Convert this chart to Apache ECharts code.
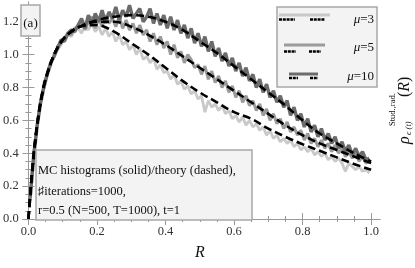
<!DOCTYPE html>
<html><head><meta charset="utf-8">
<script src="https://cdn.jsdelivr.net/npm/echarts@6/dist/echarts.min.js"></script>
<style>html,body{margin:0;padding:0;background:#fff}#c{width:415px;height:268px}</style>
</head><body><div id="c"></div>
<script>
// ---- data ----
const binWidth = 0.01;
const mcMu3 = [0.10,0.36,0.59,0.70,0.83,0.88,0.93,1.01,1.03,1.06,1.10,1.12,1.11,1.15,1.16,
  1.13,1.18,1.15,1.19,1.14,1.17,1.12,1.16,1.11,1.14,
  1.08,1.12,1.06,1.08,1.03,1.06,1.00,1.04,0.97,0.99,
  0.95,0.98,0.91,0.94,0.89,0.90,0.85,0.88,0.82,0.84,
  0.79,0.81,0.76,0.78,0.73,0.75,0.65,0.72,0.68,0.70,
  0.66,0.69,0.64,0.66,0.61,0.63,0.59,0.62,0.57,0.60,
  0.56,0.58,0.54,0.56,0.51,0.54,0.49,0.51,0.47,0.49,
  0.46,0.48,0.44,0.46,0.42,0.44,0.41,0.43,0.39,0.41,
  0.38,0.40,0.36,0.38,0.35,0.37,0.34,0.29,0.34,0.32,
  0.30,0.32,0.29,0.30,0.28];
const mcMu5 = [0.12,0.40,0.56,0.72,0.80,0.89,0.95,0.99,1.05,1.07,1.10,1.13,1.12,1.16,1.17,
  1.21,1.15,1.20,1.23,1.16,1.22,1.17,1.24,1.19,1.22,
  1.17,1.23,1.16,1.21,1.15,1.19,1.13,1.18,1.12,1.15,
  1.08,1.13,1.06,1.11,1.04,1.08,1.00,1.06,0.98,1.02,
  0.95,1.00,0.97,0.92,0.94,0.88,0.93,0.85,0.90,0.83,
  0.87,0.80,0.84,0.77,0.81,0.74,0.78,0.71,0.75,0.69,
  0.72,0.66,0.70,0.63,0.67,0.60,0.64,0.58,0.61,0.55,
  0.59,0.53,0.56,0.51,0.54,0.48,0.52,0.46,0.49,0.44,
  0.48,0.43,0.46,0.41,0.45,0.40,0.43,0.38,0.41,0.37,
  0.40,0.35,0.38,0.34,0.35];
const mcMu10 = [0.13,0.37,0.56,0.70,0.80,0.88,0.95,0.99,1.04,1.09,1.08,1.13,1.15,1.14,1.18,
  1.22,1.16,1.24,1.18,1.25,1.20,1.27,1.19,1.26,1.22,
  1.29,1.21,1.27,1.23,1.30,1.22,1.25,1.28,1.20,1.23,
  1.28,1.19,1.25,1.18,1.24,1.16,1.23,1.15,1.21,1.13,
  1.18,1.10,1.16,1.07,1.13,1.05,1.11,1.02,1.08,0.99,
  1.04,0.96,1.01,0.93,0.98,0.90,0.95,0.87,0.92,0.84,
  0.88,0.80,0.85,0.77,0.82,0.74,0.78,0.71,0.75,0.68,
  0.72,0.63,0.68,0.60,0.64,0.56,0.61,0.53,0.57,0.50,
  0.55,0.48,0.52,0.46,0.50,0.43,0.47,0.41,0.45,0.39,
  0.43,0.38,0.41,0.36,0.37];

const thR    = [0,0.005,0.01,0.02,0.03,0.04,0.05,0.075,0.1,0.125,0.15,0.2,0.25,0.3,0.35,0.4,0.45,0.5,0.55,0.6,0.65,0.7,0.75,0.8,0.85,0.9,0.95,1.0];
const thMu3  = [0,0.14,0.27,0.48,0.64,0.76,0.85,1.00,1.09,1.14,1.17,1.18,1.14,1.07,1.00,0.92,0.84,0.77,0.71,0.65,0.61,0.55,0.50,0.455,0.415,0.375,0.335,0.30];
const thMu5  = [0,0.14,0.27,0.48,0.64,0.76,0.85,1.00,1.09,1.14,1.17,1.20,1.20,1.17,1.12,1.06,0.99,0.92,0.85,0.78,0.71,0.64,0.57,0.51,0.46,0.42,0.38,0.34];
const thMu10 = [0,0.14,0.27,0.48,0.64,0.76,0.85,1.00,1.09,1.14,1.17,1.21,1.23,1.24,1.23,1.20,1.15,1.08,1.01,0.93,0.85,0.77,0.69,0.60,0.52,0.46,0.40,0.35];

const xTicks = [0,0.2,0.4,0.6,0.8,1.0];
const yTicks = [0,0.2,0.4,0.6,0.8,1.0,1.2];
const xMinor = [0,0.05,0.1,0.15,0.2,0.25,0.3,0.35,0.4,0.45,0.5,0.55,0.6,0.65,0.7,0.75,0.8,0.85,0.9,0.95,1.0];
const yMinor = [0,0.05,0.1,0.15,0.2,0.25,0.3,0.35,0.4,0.45,0.5,0.55,0.6,0.65,0.7,0.75,0.8,0.85,0.9,0.95,1.0,1.05,1.1,1.15,1.2,1.25,1.3];

const legendLabels = ['3','5','10'];
const colors = ['#c9c9c9','#9b9b9b','#6b6b6b'];

// ---- build ----
function mcPairs(vals){ return vals.map((v,i)=>[binWidth*(i+0.5), v]); }
function thPairs(vals){ return vals.map((v,i)=>[thR[i], v]); }

const SERIF = 'Liberation Serif';
const XMIN=-0.017, XMAX=1.026, YMIN=-0.012, YMAX=1.32;
const axCol = '#999';

function xAx(pos, custom, len, labels){
  return {type:'value', min:XMIN, max:XMAX, position:pos, splitLine:{show:false},
    axisLine:{show:labels!==null, lineStyle:{color:axCol,width:1}},
    axisTick:{show:true, inside:true, length:len, customValues:custom, lineStyle:{color:axCol}},
    axisLabel:{show:!!labels, customValues:custom, margin:4, color:'#333', fontFamily:SERIF, fontSize:12.5,
      formatter:v=>v.toFixed(1)}};
}
function yAx(pos, custom, len, labels){
  return {type:'value', min:YMIN, max:YMAX, position:pos, splitLine:{show:false},
    axisLine:{show:labels!==null, lineStyle:{color:axCol,width:1}},
    axisTick:{show:true, inside:true, length:len, customValues:custom, lineStyle:{color:axCol}},
    axisLabel:{show:!!labels, customValues:custom, margin:4, color:'#333', fontFamily:SERIF, fontSize:12.5,
      formatter:v=>v.toFixed(1)}};
}

const dash = [8,4];
const widths = [2.8,3,3.4];
const series = [];
[mcMu3,mcMu5,mcMu10].forEach((d,k)=>{
  series.push({type:'line', data:mcPairs(d), showSymbol:false, symbol:'none', silent:true,
    lineStyle:{color:colors[k], width:widths[k]}, z:2});
});
[thMu3,thMu5,thMu10].forEach((d,k)=>{
  series.push({type:'line', data:thPairs(d), showSymbol:false, symbol:'none', smooth:0.35, silent:true,
    lineStyle:{color:'#000', width:2.6, type:dash, cap:'butt'}, z:3});
});

// legend graphics
const lg = [];
lg.push({type:'rect', shape:{x:277,y:7,width:100,height:80}, style:{fill:'#f3f3f3', stroke:'#a8a8a8', lineWidth:1.5}, z:10});
const legRows = [
  {y:15, dy:19.5, x0:279, x1:330, g:[[279,295],[310,325]], ty:20},
  {y:45, dy:51.5, x0:284, x1:325, g:[[284,296],[309,321]], ty:48},
  {y:74, dy:78, x0:289, x1:318, g:[[289,298],[310,318]], ty:77}
];
legRows.forEach((r,k)=>{
  lg.push({type:'line', shape:{x1:r.x0,y1:r.y,x2:r.x1,y2:r.y}, style:{stroke:colors[k], lineWidth:3}, z:11});
  r.g.forEach(s=>lg.push({type:'line', shape:{x1:s[0],y1:r.dy,x2:s[1],y2:r.dy}, style:{stroke:'#000', lineWidth:2.5, lineDash:[3,0.8]}, z:11}));
  lg.push({type:'text', x:374, y:r.ty, z:11, style:{text:'{i|μ}='+legendLabels[k], align:'right', verticalAlign:'middle',
    fontFamily:SERIF, fontSize:13, fill:'#111', rich:{i:{fontStyle:'italic', fontFamily:SERIF, fontSize:13, fill:'#111'}}}});
});
// (a) box
lg.push({type:'rect', shape:{x:21,y:5,width:19,height:31}, style:{fill:'#f3f3f3', stroke:'#a8a8a8', lineWidth:1.5}, z:10});
lg.push({type:'text', x:30.5, y:24, z:11, style:{text:'(a)', align:'center', verticalAlign:'middle', fontFamily:SERIF, fontSize:13, fill:'#111'}});
// info box
lg.push({type:'rect', shape:{x:36,y:150,width:216,height:70}, style:{fill:'#f3f3f3', stroke:'#a8a8a8', lineWidth:1.5}, z:10});
['MC histograms (solid)/theory (dashed),','♯iterations=1000,','r=0.5 (N=500, T=1000), t=1'].forEach((t,i)=>{
  lg.push({type:'text', x:38, y:[171,192,211][i], z:11, style:{text:t, align:'left', verticalAlign:'middle', fontFamily:SERIF, fontSize:12.5, fill:'#111'}});
});
// axis titles
lg.push({type:'text', x:200, y:253, z:11, style:{text:'R', align:'center', verticalAlign:'middle', fontFamily:SERIF, fontStyle:'italic', fontSize:16, fill:'#111'}});
const rot = Math.PI/2;
lg.push({type:'text', x:405, y:144, rotation:rot, z:11, style:{text:'ρ', align:'left', verticalAlign:'middle', fontFamily:SERIF, fontStyle:'italic', fontSize:16, fill:'#111'}});
lg.push({type:'text', x:409, y:135, rotation:rot, z:11, style:{text:'ϵ (t)', align:'left', verticalAlign:'middle', fontFamily:SERIF, fontStyle:'italic', fontSize:8.5, fill:'#111'}});
lg.push({type:'text', x:393, y:126, rotation:rot, z:11, style:{text:'Stud.,rad.', align:'left', verticalAlign:'middle', fontFamily:SERIF, fontSize:8.5, fill:'#111'}});
lg.push({type:'text', x:405, y:97, rotation:rot, z:11, style:{text:'({i|R})', align:'left', verticalAlign:'middle', fontFamily:SERIF, fontSize:16, fill:'#111',
    rich:{i:{fontStyle:'italic', fontFamily:SERIF, fontSize:16, fill:'#111'}}}});

const chart = echarts.init(document.getElementById('c'), null, {renderer:'canvas'});
chart.setOption({
  animation:false,
  backgroundColor:'#fff',
  grid:{left:20, right:35, top:2, bottom:47, containLabel:false},
  xAxis:[xAx('bottom', xTicks, 6, true), xAx('top', xTicks, 6, false), xAx('bottom', xMinor, 3, null), xAx('top', xMinor, 3, null)],
  yAxis:[yAx('left', yTicks, 6, true), yAx('right', yTicks, 6, false), yAx('left', yMinor, 3, null), yAx('right', yMinor, 3, null)],
  series: series,
  graphic: lg
});
</script>
</body></html>
